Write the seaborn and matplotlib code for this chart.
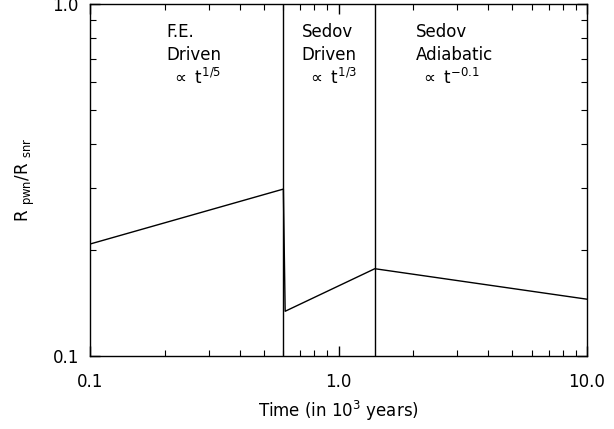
import matplotlib
matplotlib.use("Agg")
import matplotlib.pyplot as plt
import seaborn as sns
import pandas as pd
from matplotlib.ticker import FixedLocator, FixedFormatter, LogLocator, NullFormatter

# Data
time_kyr = [0.1, 0.6, 0.61, 1.4, 10.0]
radius_ratio = [0.208, 0.298, 0.134, 0.177, 0.145]
phase_boundaries = [0.6, 1.4]
x_ticks = [0.1, 1.0, 10.0]
x_ticklabels = ["0.1", "1.0", "10.0"]
y_ticks = [0.1, 1.0]
y_ticklabels = ["0.1", "1.0"]
phase_labels = [
    (0.202, "F.E.\nDriven\n $\\propto$ t$^{1/5}$"),
    (0.71, "Sedov\nDriven\n $\\propto$ t$^{1/3}$"),
    (2.04, "Sedov\nAdiabatic\n $\\propto$ t$^{-0.1}$"),
]

sns.set_style("ticks")
plt.rcParams["font.family"] = ["DejaVu Sans"]
plt.rcParams["mathtext.default"] = "regular"
for k in ["text.color", "axes.labelcolor", "xtick.color", "ytick.color", "axes.edgecolor"]:
    plt.rcParams[k] = "black"

df = pd.DataFrame({"t": time_kyr, "r": radius_ratio})

fig = plt.figure(figsize=(6.14, 4.29), dpi=100)
ax = fig.add_axes([90/614, 73/429, (587-90)/614, (356-4)/429])
sns.lineplot(data=df, x="t", y="r", ax=ax, color="black", linewidth=1.0,
             sort=False, estimator=None)
for xb in phase_boundaries:
    ax.axvline(xb, color="black", linewidth=1.0)

ax.set_xscale("log")
ax.set_yscale("log")
ax.set_xlim(0.1, 10.0)
ax.set_ylim(0.1, 1.0)

ax.xaxis.set_major_locator(FixedLocator(x_ticks))
ax.xaxis.set_major_formatter(FixedFormatter(x_ticklabels))
ax.yaxis.set_major_locator(FixedLocator(y_ticks))
ax.yaxis.set_major_formatter(FixedFormatter(y_ticklabels))
ax.xaxis.set_minor_locator(LogLocator(base=10, subs=range(2, 10)))
ax.yaxis.set_minor_locator(LogLocator(base=10, subs=range(2, 10)))
ax.xaxis.set_minor_formatter(NullFormatter())
ax.yaxis.set_minor_formatter(NullFormatter())

ax.tick_params(which="both", direction="in", top=True, right=True, color="black")
ax.tick_params(which="major", length=7, width=1.0, labelsize=12)
ax.tick_params(which="minor", length=4, width=0.8)
ax.tick_params(axis="x", which="major", pad=12)
ax.tick_params(axis="y", which="major", pad=8)
for s in ax.spines.values():
    s.set_color("black")
    s.set_linewidth(1.0)

ax.set_xlabel("Time (in 10$^3$ years)", fontsize=12, labelpad=6)
ax.set_ylabel("R $_{pwn}$/R $_{snr}$", fontsize=12, labelpad=11)

for xpos, txt in phase_labels:
    ax.text(xpos, 0.945, txt, transform=ax.get_xaxis_transform(), ha="left", va="top",
            fontsize=12, linespacing=1.3, color="black")

fig.savefig("out.png", dpi=100)
